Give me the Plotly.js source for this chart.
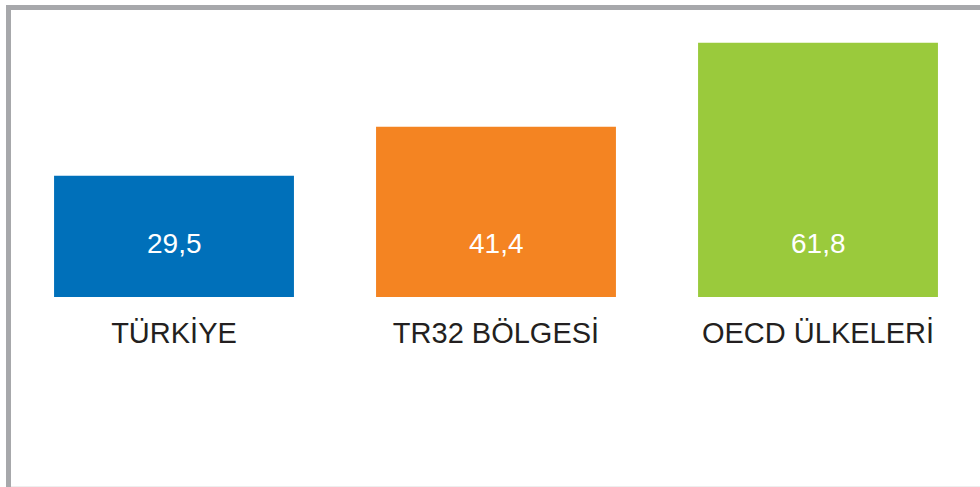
<!DOCTYPE html>
<html>
<head>
<meta charset="utf-8">
<script src="https://cdn.plot.ly/plotly-3.0.1.min.js"></script>
<style>html,body{margin:0;padding:0;background:#fff;}#chart{width:980px;height:487px;}</style>
</head>
<body>
<div id="chart"></div>
<script>
const categories = ["TÜRKİYE", "TR32 BÖLGESİ", "OECD ÜLKELERİ"];
const values = [29.5, 41.4, 61.8];
const valueLabels = ["29,5", "41,4", "61,8"];
const barColors = ["#0070BA", "#F48422", "#9ACA3C"];

const W = 980, H = 487;
const mL = 13, mR = 1, mT = 9, mB = 190;
const pw = W - mL - mR, ph = H - mT - mB;
const px2x = p => (p - mL) / pw;
const py2y = p => (H - mB - p) / ph;

const trace = {
  type: "bar",
  x: categories,
  y: values,
  marker: {color: barColors, line: {width: 0}},
  hoverinfo: "none",
  textposition: "none"
};

const annotations = categories.map((c, i) => ({
  x: c, xref: "x",
  y: py2y(243), yref: "paper",
  text: valueLabels[i],
  showarrow: false,
  xanchor: "center", yanchor: "middle",
  font: {family: "Liberation Sans, Arial, sans-serif", size: 28, color: "#ffffff"}
}));

const borderColor = "#A7A8AB";
const shapes = [
  {type: "line", xref: "paper", yref: "paper",
   x0: px2x(8.5), x1: px2x(8.5), y0: py2y(5), y1: py2y(490),
   line: {color: borderColor, width: 5}},
  {type: "line", xref: "paper", yref: "paper",
   x0: px2x(6), x1: px2x(985), y0: py2y(7.5), y1: py2y(7.5),
   line: {color: borderColor, width: 5}},
  {type: "line", xref: "paper", yref: "paper",
   x0: px2x(11), x1: px2x(985), y0: py2y(486.5), y1: py2y(486.5),
   line: {color: "#EEEEEE", width: 1}}
];

const layout = {
  width: W, height: H,
  margin: {l: mL, r: mR, t: mT, b: mB, pad: 0},
  paper_bgcolor: "#ffffff",
  plot_bgcolor: "#ffffff",
  showlegend: false,
  bargap: 0.255,
  xaxis: {
    type: "category",
    range: [-0.5, 2.5],
    showgrid: false, zeroline: false, showline: false,
    ticks: "",
    ticklabelstandoff: 16,
    tickfont: {family: "Liberation Sans, Arial, sans-serif", size: 29, color: "#231F20"},
    fixedrange: true
  },
  yaxis: {
    range: [0, 70],
    visible: false,
    showgrid: false, zeroline: false,
    fixedrange: true
  },
  annotations: annotations,
  shapes: shapes
};

Plotly.newPlot("chart", [trace], layout, {displayModeBar: false, staticPlot: true});
</script>
</body>
</html>
